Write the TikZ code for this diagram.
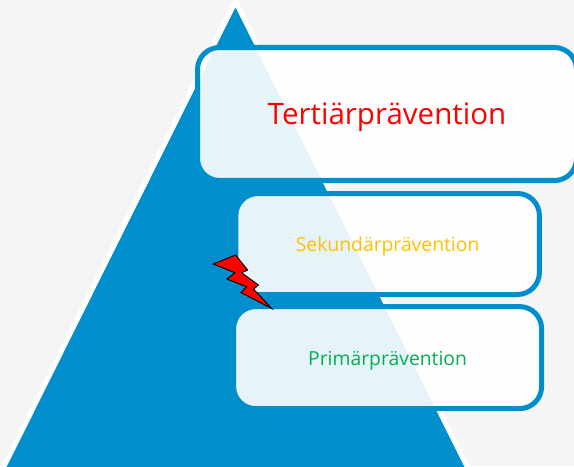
\documentclass[tikz,border=0pt]{standalone}
\usepackage{fontspec}
\setmainfont{Open Sans}
\definecolor{pyrblue}{HTML}{008FCC}
\definecolor{pagegray}{HTML}{F5F5F5}
\definecolor{sekyellow}{HTML}{FFC000}
\definecolor{primgreen}{HTML}{00B050}
\tikzset{
  stage/.style={draw=pyrblue, line width=3.56pt, fill=white, fill opacity=0.9, draw opacity=1, text opacity=1, rounded corners=0.55cm, inner sep=0pt, text depth=0pt},
}
\begin{document}
\begin{tikzpicture}
    \useasboundingbox (0,0) rectangle (14.35,11.65);
    \clip (0,0) rectangle (14.35,11.65);
    \fill [pagegray] (0,0) rectangle (14.35,11.65);
    \draw [fill=pyrblue, draw=white, line width=3.56pt] (5.8875,11.615) -- (0.055,-0.1) -- (11.72,-0.1) -- cycle;
    \node (tertiaer) [stage, minimum width=9.475cm, minimum height=3.325cm, text=red, text height=15pt, font=\fontsize{21}{25}\selectfont] at (9.675,8.8) {Tertiärprävention};
    \node (sekundaer) [stage, minimum width=7.59cm, minimum height=2.525cm, text=sekyellow, text height=11pt, font=\fontsize{13.75}{16}\selectfont] at (9.69,5.55) {Sekundärprävention};
    \node (primaer) [stage, minimum width=7.7cm, minimum height=2.55cm, text=primgreen, text height=11.4pt, font=\fontsize{13.75}{16}\selectfont] at (9.69,2.71) {Primärprävention};
    \draw [fill=red, draw=black, line width=0.7pt, line join=miter] (5.33,5.05) -- (5.89,5.275) -- (6.19,4.9) -- (6.04,4.83) -- (6.46,4.525) -- (6.34,4.42) -- (6.79,3.94) -- (6.02,4.34) -- (6.16,4.48) -- (5.67,4.675) -- (5.875,4.83) -- cycle;
\end{tikzpicture}
\end{document}
